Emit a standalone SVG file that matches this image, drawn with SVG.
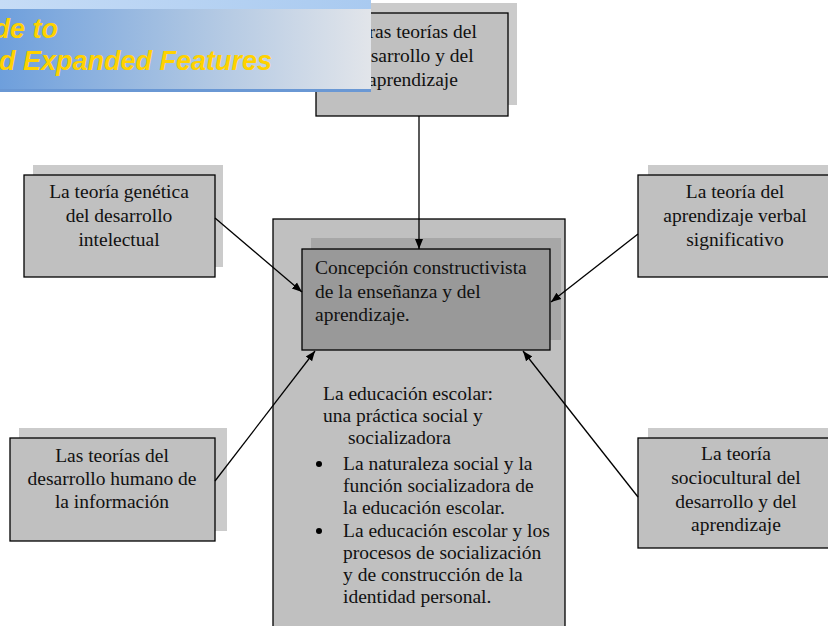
<svg xmlns="http://www.w3.org/2000/svg" width="828" height="626" viewBox="0 0 828 626">
<defs>
<style>
.box{fill:#c0c0c0;stroke:#000;stroke-width:1.3}
.sh{fill:#cbcbcb}
.t{font-family:"Liberation Serif","Times New Roman",serif;font-size:19.5px;fill:#111}
.c{text-anchor:middle}
.ln{stroke:#000;stroke-width:1.3;fill:none;marker-end:url(#ah)}
.ban{font-family:"Liberation Sans",Arial,sans-serif;font-size:27px;font-weight:bold;font-style:italic;fill:#ffd200;text-anchor:end}
</style>
<marker id="ah" viewBox="0 0 10 10" refX="10" refY="5" markerWidth="10" markerHeight="10" markerUnits="userSpaceOnUse" orient="auto">
<path d="M0,1 L10,5 L0,9 Z" fill="#000"/>
</marker>
<linearGradient id="bg" x1="0" y1="0" x2="1" y2="0">
<stop offset="0" stop-color="#6e9fdc"/>
<stop offset="0.5" stop-color="#a9c3e2"/>
<stop offset="1" stop-color="#e2e5ea"/>
</linearGradient>
<linearGradient id="bt" x1="0" y1="0" x2="1" y2="0">
<stop offset="0" stop-color="#c6dcf6"/>
<stop offset="1" stop-color="#a9caf0"/>
</linearGradient>
</defs>
<rect width="828" height="626" fill="#fff"/>

<g id="container">
<rect class="box" x="273" y="219" width="292" height="420"/>
<text class="t" x="323" y="400">La educación escolar:</text>
<text class="t" x="323" y="422">una práctica social y</text>
<text class="t" x="348" y="444">socializadora</text>
<circle cx="319" cy="464" r="3" fill="#000"/>
<text class="t" x="343" y="470">La naturaleza social y la</text>
<text class="t" x="343" y="492">función socializadora de</text>
<text class="t" x="343" y="514">la educación escolar.</text>
<circle cx="319" cy="531" r="3" fill="#000"/>
<text class="t" x="343" y="537">La educación escolar y los</text>
<text class="t" x="343" y="559">procesos de socialización</text>
<text class="t" x="343" y="581">y de construcción de la</text>
<text class="t" x="343" y="603">identidad personal.</text>
</g>

<g id="center">
<rect x="311" y="238" width="250" height="102" fill="#a7a7a7"/>
<rect x="302" y="249" width="248" height="101" fill="#999" stroke="#000" stroke-width="1.3"/>
<text class="t" x="315" y="274">Concepción constructivista</text>
<text class="t" x="315" y="298">de la enseñanza y del</text>
<text class="t" x="315" y="321">aprendizaje.</text>
</g>

<g id="top">
<rect class="sh" x="326" y="3" width="191" height="102"/>
<rect class="box" x="316" y="13" width="192" height="103"/>
<text class="t c" x="413" y="38">Otras teorías del</text>
<text class="t c" x="413" y="62">desarrollo y del</text>
<text class="t c" x="413" y="86">aprendizaje</text>
</g>

<g id="genetica">
<rect class="sh" x="33" y="165" width="190" height="102"/>
<rect class="box" x="24" y="175" width="191" height="102"/>
<text class="t c" x="119" y="198">La teoría genética</text>
<text class="t c" x="119" y="222">del desarrollo</text>
<text class="t c" x="119" y="246">intelectual</text>
</g>

<g id="verbal">
<rect class="sh" x="648" y="165" width="192" height="102"/>
<rect class="box" x="638" y="175" width="194" height="102"/>
<text class="t c" x="735" y="198">La teoría del</text>
<text class="t c" x="735" y="222">aprendizaje verbal</text>
<text class="t c" x="735" y="246">significativo</text>
</g>

<g id="humano">
<rect class="sh" x="19" y="428" width="208" height="103"/>
<rect class="box" x="10" y="438" width="205" height="103"/>
<text class="t c" x="112" y="462">Las teorías del</text>
<text class="t c" x="112" y="485">desarrollo humano de</text>
<text class="t c" x="112" y="508">la información</text>
</g>

<g id="sociocultural">
<rect class="sh" x="648" y="428" width="192" height="110"/>
<rect class="box" x="638" y="438" width="194" height="110"/>
<text class="t c" x="736" y="460">La teoría</text>
<text class="t c" x="736" y="484">sociocultural del</text>
<text class="t c" x="736" y="508">desarrollo y del</text>
<text class="t c" x="736" y="531">aprendizaje</text>
</g>

<g id="connectors">
<line class="ln" x1="419" y1="116" x2="419" y2="249"/>
<line class="ln" x1="215" y1="218" x2="302" y2="292"/>
<line class="ln" x1="638" y1="234" x2="551" y2="302"/>
<line class="ln" x1="215" y1="481" x2="315" y2="351"/>
<line class="ln" x1="638" y1="497" x2="523" y2="351"/>
</g>

<g id="banner">
<rect x="0" y="0" width="371" height="10" fill="url(#bt)"/>
<rect x="0" y="9" width="371" height="81" fill="url(#bg)"/>
<rect x="0" y="89" width="371" height="3" fill="#6a98d4"/>
<text class="ban" x="58" y="38">de to</text>
<text class="ban" x="272" y="70">d Expanded Features</text>
</g>
</svg>
